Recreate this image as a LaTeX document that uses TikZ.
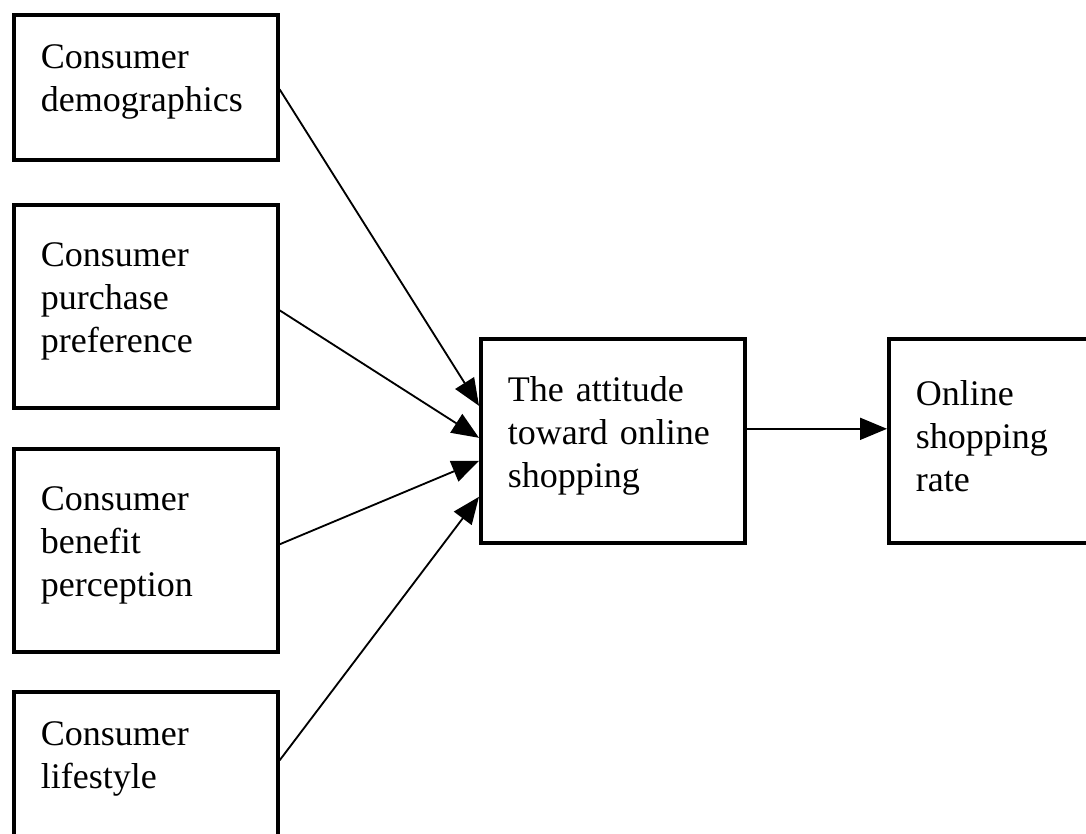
\documentclass[tikz,border=0pt]{standalone}
\usepackage{fontspec}
\setmainfont{Liberation Serif}
\usetikzlibrary{calc,arrows.meta}
\tikzset{
    block/.style = {draw, rectangle, line width=2.1pt,
        anchor=north west, align=left,
        text width=4.2cm, inner xsep=0.54cm, inner ysep=0pt,
        minimum width=5.28cm,
        execute at end node={\par\vspace*{0.2cm}},
        font=\fontsize{20.5}{24.5}\selectfont},
    arrow/.style = {draw, line width=1.05pt, -{Triangle[length=0.54cm,width=0.44cm]}}
}

\begin{document}
\begin{tikzpicture}[x=0.02cm,y=-0.02cm]
            \useasboundingbox (0,0) rectangle (1086,834);
            % factors on the left
            \node[block, minimum height=2.9cm] (demo) at (12,13) {Consumer\\demographics};
            \node[block, minimum height=4.06cm] (pref) at (12,203) {Consumer\\purchase\\preference};
            \node[block, minimum height=4.06cm] (benefit) at (12,447) {Consumer\\benefit\\perception};
            \node[block, minimum height=2.9cm] (life) at (12,690) {Consumer\\lifestyle};
            % attitude and rate
            \node[block, minimum height=4.08cm] (att) at (479,337) {The attitude\\toward online\\shopping};
            \node[block, minimum height=4.08cm] (rate) at (887,337) {Online\\shopping\\rate};
            % connectors
            \draw[arrow] ($(demo.east)+(0,2)$) -- ($(att.west)+(0,-35)$);
            \draw[arrow] ($(pref.east)+(0,4)$) -- ($(att.west)+(0,-3)$);
            \draw[arrow] ($(benefit.east)+(0,-6)$) -- ($(att.west)+(0,20)$);
            \draw[arrow] ($(life.east)+(0,-4)$) -- ($(att.west)+(0,56)$);
            \draw[arrow] ($(att.east)+(0,-12)$) -- ($(rate.west)+(0,-12)$);
\end{tikzpicture}
\end{document}
